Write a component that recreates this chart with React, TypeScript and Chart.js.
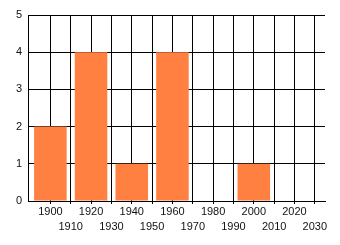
import React, { useEffect, useRef } from 'react';
import { Chart, registerables } from 'chart.js';

Chart.register(...registerables);

// Data
const YEARS = [1900, 1920, 1940, 1960, 1980, 2000, 2020];
const COUNTS = [2, 4, 1, 4, 0, 1, 0];
const X_TICKS = [1900, 1910, 1920, 1930, 1940, 1950, 1960, 1970, 1980, 1990, 2000, 2010, 2020, 2030];
const Y_TICKS = [0, 1, 2, 3, 4, 5];

const FONT = { family: "'Liberation Sans', Arial, sans-serif", size: 11, lineHeight: '15px' };

export default function App() {
  const ref = useRef<HTMLCanvasElement | null>(null);

  useEffect(() => {
    document.body.style.margin = '0';
    const canvas = ref.current;
    if (!canvas) return;
    const chart = new Chart(canvas, {
      type: 'bar',
      data: {
        datasets: [
          {
            data: YEARS.map((y, i) => ({ x: y, y: COUNTS[i] })),
            backgroundColor: '#FF8040',
            borderWidth: 0,
            barPercentage: 1.6,
            categoryPercentage: 1.0,
          },
        ],
      },
      options: {
        animation: false,
        responsive: false,
        devicePixelRatio: 1,
        layout: { padding: { left: 0, top: 15, right: 15, bottom: 0 } },
        plugins: { legend: { display: false }, tooltip: { enabled: false } },
        scales: {
          x: {
            type: 'linear',
            min: 1889,
            max: 2035,
            offset: false,
            afterBuildTicks: (scale: any) => {
              scale.ticks = X_TICKS.map((v) => ({ value: v }));
            },
            afterFit: (scale: any) => {
              scale.height = 44;
            },
            grid: {
              offset: false,
              color: '#000',
              lineWidth: 1,
              drawTicks: true,
              tickLength: 3,
              tickColor: '#000',
            },
            border: { color: '#000', width: 1 },
            ticks: {
              autoSkip: false,
              maxRotation: 0,
              minRotation: 0,
              padding: 0,
              color: '#111',
              font: FONT as any,
              callback: (value: any) => {
                const idx = X_TICKS.indexOf(Number(value));
                const s = String(value);
                return idx % 2 === 0 ? s : ['', s];
              },
            },
          },
          y: {
            type: 'linear',
            min: 0,
            max: 5,
            afterBuildTicks: (scale: any) => {
              scale.ticks = Y_TICKS.map((v) => ({ value: v }));
            },
            afterFit: (scale: any) => {
              scale.width = 28;
            },
            grid: { color: '#000', lineWidth: 1, drawTicks: false },
            border: { color: '#000', width: 1 },
            ticks: {
              padding: 6,
              color: '#111',
              font: { family: FONT.family, size: 11 },
            },
          },
        },
      },
    });
    return () => chart.destroy();
  }, []);

  return (
    <div style={{ width: 340, height: 245, background: '#fff' }}>
      <canvas ref={ref} width={340} height={245} style={{ display: 'block' }} />
    </div>
  );
}
